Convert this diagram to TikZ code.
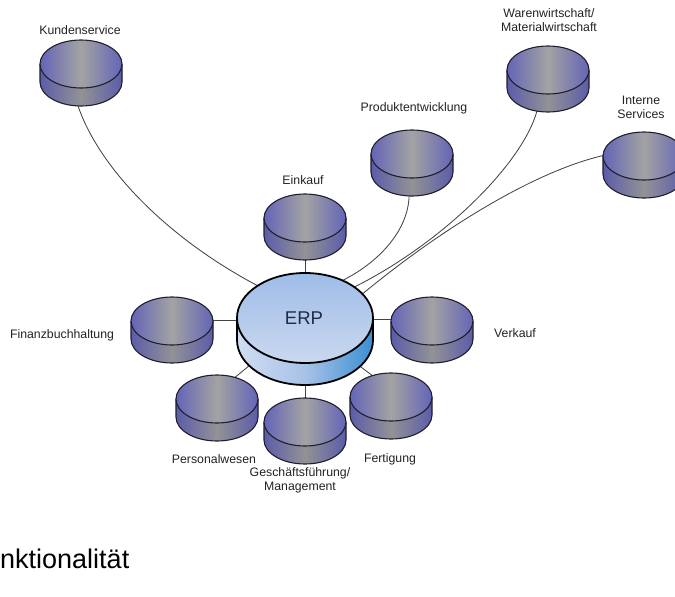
\documentclass[tikz,border=0pt]{standalone}
\usepackage{fontspec}
\setmainfont{Liberation Sans}
\usetikzlibrary{shapes.geometric,calc}
\definecolor{topL}{HTML}{6464B8}
\definecolor{topM}{HTML}{A3A3A3}
\definecolor{sideL}{HTML}{5C5CAA}
\definecolor{sideM}{HTML}{929296}
\definecolor{dline}{HTML}{1E1E2C}
\definecolor{connc}{HTML}{444444}
\definecolor{labelc}{HTML}{222222}
\definecolor{erpTopT}{HTML}{9FBDE8}
\definecolor{erpTopB}{HTML}{CAD8EF}
\definecolor{erpSideL}{HTML}{D0DDF2}
\definecolor{erpSideM}{HTML}{A7C2E7}
\definecolor{erpSideR}{HTML}{3B8FD3}
\definecolor{erpText}{HTML}{1F2B45}
\newcommand{\smalldisk}[2]{%
  \draw[diskline, left color=sideL, right color=sideL, middle color=sideM]
    (#1-41,#2) -- (#1-41,#2+18) arc[start angle=180, end angle=360, x radius=41pt, y radius=24pt] -- (#1+41,#2);
  \draw[diskline, left color=topL, right color=topL, middle color=topM]
    (#1,#2) ellipse[x radius=41pt, y radius=24pt];
}
\begin{document}
\begin{tikzpicture}[x=1pt,y=-1pt,
  dnode/.style={ellipse, minimum width=82pt, minimum height=66pt, inner sep=0pt},
  erpnode/.style={ellipse, minimum width=136pt, minimum height=112pt, inner sep=0pt},
  lbl/.style={font=\fontsize{12.3}{14}\selectfont, text=labelc, inner sep=0pt, align=center},
  conn/.style={draw=connc, line width=0.85pt},
  diskline/.style={draw=dline, line width=1.1pt}]
\useasboundingbox (0,0) rectangle (675,597);

% invisible anchor nodes (whole disk outline)
\node[dnode] (kund) at (81,73) {};
\node[dnode] (eink) at (305,227) {};
\node[dnode] (prod) at (412,163) {};
\node[dnode] (ware) at (548,79) {};
\node[dnode] (intern) at (644,165) {};
\node[dnode] (verk) at (432,330) {};
\node[dnode] (finanz) at (172,330) {};
\node[dnode] (pers) at (217,408) {};
\node[dnode] (gesch) at (305,431) {};
\node[dnode] (fert) at (391,406) {};
\node[erpnode] (erp) at (305,329) {};

% connectors
\draw[conn] (kund.265) .. controls (100,170) and (170,240) .. (erp.137);
\draw[conn] (eink.south) -- (erp.north);
\draw[conn] (prod.265) .. controls (408,230) and (380,262) .. (erp.53);
\draw[conn] (ware.251) .. controls (522,165) and (440,245) .. (erp.41);
\draw[conn] (intern.166) .. controls (530,172) and (432,236) .. (erp.31);
\draw[conn] (finanz.14) -- (finanz.14 -| erp.west);
\draw[conn] (verk.165) -- (verk.165 -| erp.east);
\draw[conn] (pers.60) -- (erp.213);
\draw[conn] (gesch.north) -- (erp.south);
\draw[conn] (fert.121) -- (erp.326);

% disks
\smalldisk{81}{64}
\smalldisk{305}{218}
\smalldisk{412}{154}
\smalldisk{548}{70}
\smalldisk{644}{156}
\smalldisk{432}{321}
\smalldisk{172}{321}
\smalldisk{217}{399}
\smalldisk{305}{422}
\smalldisk{391}{397}

% ERP disk
\draw[draw=black, line width=1.8pt, left color=erpSideL, right color=erpSideR, middle color=erpSideM]
  (237,318) -- (237,340) arc[start angle=180, end angle=360, x radius=68pt, y radius=45pt] -- (373,318);
\draw[draw=black, line width=1.8pt, top color=erpTopT, bottom color=erpTopB]
  (305,318) ellipse[x radius=68pt, y radius=45pt];
\node[font=\fontsize{18.5}{20}\selectfont, text=erpText, inner sep=0pt] (erplabel) at (304,318) {ERP};

% labels
\node[lbl] (l-kund) at (80,30) {Kundenservice};
\node[lbl] (l-eink) at (303,180) {Einkauf};
\node[lbl] (l-prod) at (414,108) {Produktentwicklung};
\node[lbl] (l-ware) at (549,20.5) {Warenwirtschaft/\\Materialwirtschaft};
\node[lbl] (l-intern) at (641,107.5) {Interne\\Services};
\node[lbl] (l-verk) at (515,333) {Verkauf};
\node[lbl] (l-finanz) at (62,335) {Finanzbuchhaltung};
\node[lbl] (l-pers) at (214,459) {Personalwesen};
\node[lbl] (l-gesch) at (300,480.5) {Geschäftsführung/\\Management};
\node[lbl] (l-fert) at (390,459) {Fertigung};

\node[anchor=base west, font=\fontsize{27}{30}\selectfont, inner sep=0pt, text=black] (func) at (0,568) {nktionalität};
\end{tikzpicture}
\end{document}
